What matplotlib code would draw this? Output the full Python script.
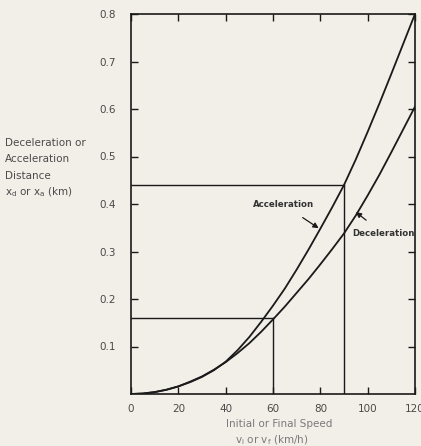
import matplotlib
matplotlib.use("Agg")
import matplotlib.pyplot as plt

# Data
speed = [0, 5, 10, 15, 20, 25, 30, 35, 40, 45, 50, 55, 60, 65, 70, 75, 80, 85, 90,
         95, 100, 105, 110, 115, 120]
accel_dist = [0, 0.001, 0.004, 0.009, 0.016, 0.025, 0.036, 0.050, 0.068, 0.092, 0.120,
              0.152, 0.186, 0.222, 0.262, 0.304, 0.348, 0.393, 0.440, 0.494, 0.552,
              0.612, 0.674, 0.737, 0.800]
decel_dist = [0, 0.001, 0.004, 0.009, 0.016, 0.026, 0.037, 0.051, 0.067, 0.086, 0.107,
              0.131, 0.157, 0.184, 0.213, 0.242, 0.273, 0.305, 0.338, 0.376, 0.418,
              0.462, 0.509, 0.557, 0.605]
x_ticks = [0, 20, 40, 60, 80, 100, 120]
y_ticks = [0.1, 0.2, 0.3, 0.4, 0.5, 0.6, 0.7, 0.8]
guide_speeds = [60, 90]
guide_dists = [0.16, 0.44]

bg = "#f2eee8"
ink = "#1a1a1a"
txt = "#4a4a4a"
plt.rcParams["font.family"] = ["DejaVu Sans"]

fig = plt.figure(figsize=(4.21, 4.46), dpi=100, facecolor=bg)
ax = fig.add_axes([131/421, 1-394/446, (415-131)/421, (394-14)/446], facecolor=bg)

ax.plot(speed, accel_dist, color=ink, lw=1.3)
ax.plot(speed, decel_dist, color=ink, lw=1.3)
for v, d in zip(guide_speeds, guide_dists):
    ax.plot([0, v], [d, d], color=ink, lw=1.0)
    ax.plot([v, v], [0, d], color=ink, lw=1.0)

ax.set_xlim(0, 120)
ax.set_ylim(0, 0.8)
ax.set_xticks(x_ticks)
ax.set_xticklabels([str(t) for t in x_ticks])
ax.set_yticks(y_ticks)
ax.set_yticklabels([f"{t:.1f}" for t in y_ticks])
ax.tick_params(axis="both", direction="in", length=5, width=1, color=ink,
               labelsize=7.5, labelcolor=txt, top=True, right=True)
ax.tick_params(axis="y", pad=11)
ax.tick_params(axis="x", pad=7)
for s in ax.spines.values():
    s.set_color(ink)
    s.set_linewidth(1.2)

ax.annotate("Acceleration", xy=(79.3, 0.349), xytext=(64.5, 0.398),
            fontsize=6.2, fontweight="bold", color="#333333", ha="center", va="center",
            arrowprops=dict(arrowstyle="-|>", color=ink, lw=0.9, mutation_scale=8,
                            shrinkA=7, shrinkB=0))
ax.annotate("Deceleration", xy=(95.0, 0.383), xytext=(106.5, 0.338),
            fontsize=6.2, fontweight="bold", color="#333333", ha="center", va="center",
            arrowprops=dict(arrowstyle="-|>", color=ink, lw=0.9, mutation_scale=8,
                            shrinkA=7, shrinkB=0))

ylab = ["Deceleration or", "Acceleration", "Distance"]
for i, s in enumerate(ylab):
    fig.text(5/421, 1-(143+i*16.5)/446, s, fontsize=7.5, color=txt, ha="left", va="center")
fig.text(5/421, 1-192/446, r"x$_\mathregular{d}$ or x$_\mathregular{a}$ (km)", fontsize=7.5,
         color=txt, ha="left", va="center")

fig.text(279/421, 1-424/446, "Initial or Final Speed", fontsize=7.5, color="#7a7a7a",
         ha="center", va="center")
fig.text(272/421, 1-440/446, r"v$_\mathregular{i}$ or v$_\mathregular{f}$ (km/h)", fontsize=7.5,
         color="#7a7a7a", ha="center", va="center")

fig.savefig("out.png", dpi=100, facecolor=bg)
